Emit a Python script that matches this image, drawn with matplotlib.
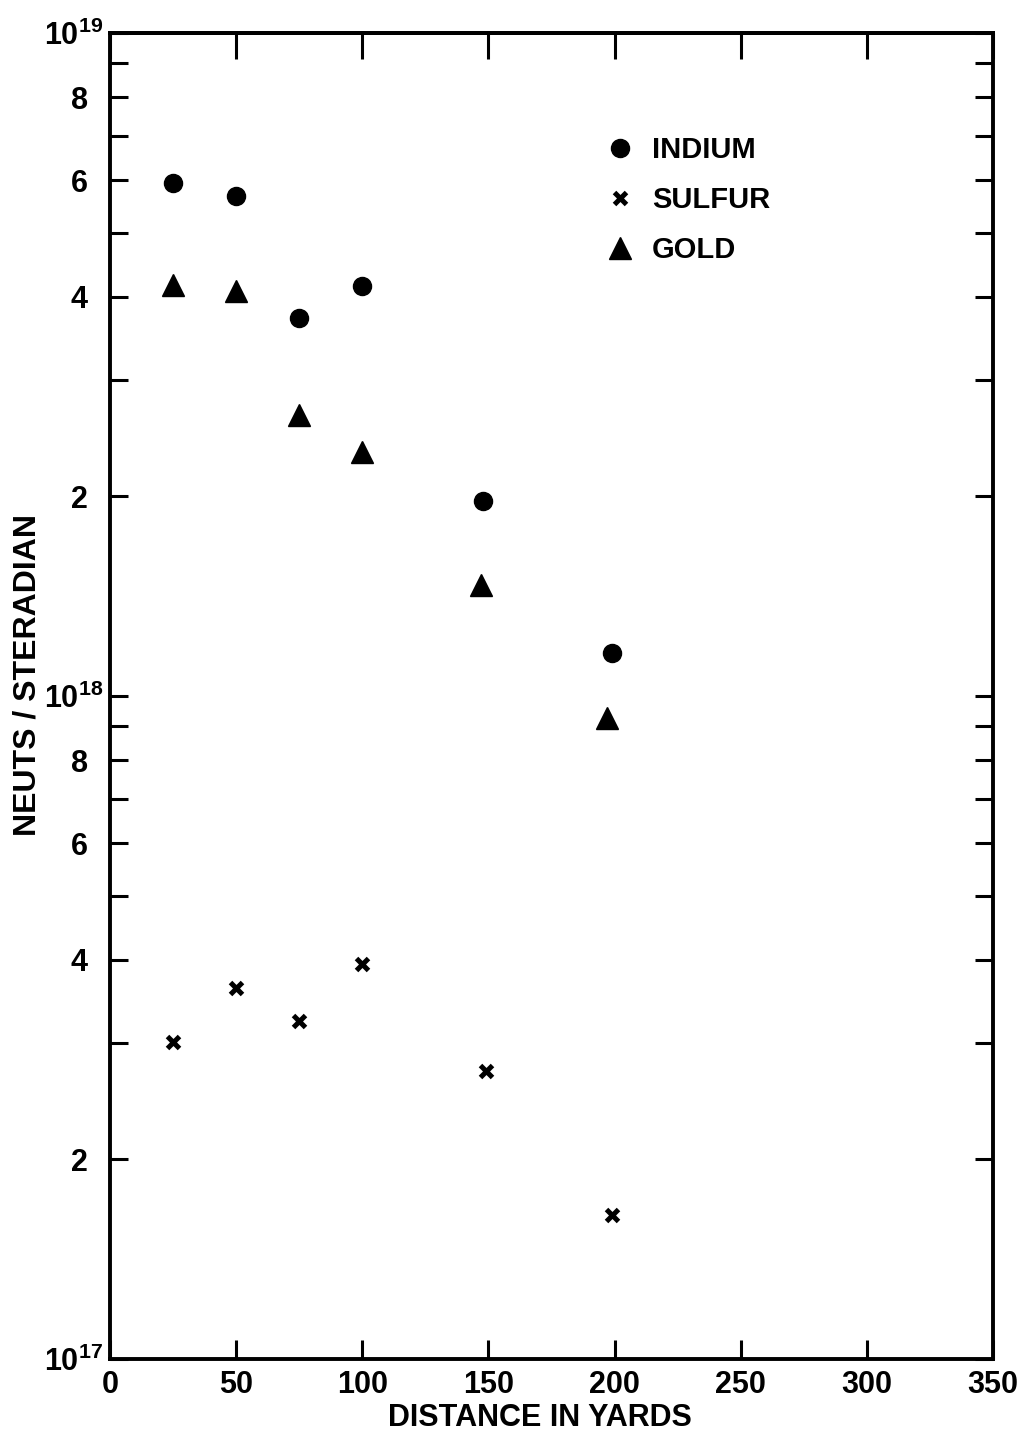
import matplotlib
matplotlib.use('Agg')
import matplotlib.pyplot as plt
from matplotlib.ticker import FixedLocator, FixedFormatter

plt.rcParams['font.family'] = ['Liberation Sans', 'DejaVu Sans']
plt.rcParams['font.weight'] = 'bold'
plt.rcParams['mathtext.fontset'] = 'custom'
plt.rcParams['mathtext.rm'] = 'Liberation Sans:bold'
plt.rcParams['mathtext.bf'] = 'Liberation Sans:bold'
plt.rcParams['mathtext.it'] = 'Liberation Sans:bold'

# ---- data ----
indium_x = [25, 50, 75, 100, 148, 199]
indium_y = [5.94e18, 5.68e18, 3.72e18, 4.15e18, 1.97e18, 1.16e18]
sulfur_x = [25, 50, 75, 100, 149, 199]
sulfur_y = [3.01e17, 3.63e17, 3.23e17, 3.94e17, 2.72e17, 1.65e17]
gold_x = [25, 50, 75, 100, 147, 197]
gold_y = [4.17e18, 4.08e18, 2.65e18, 2.33e18, 1.47e18, 9.26e17]

series_labels = ['INDIUM', 'SULFUR', 'GOLD']
x_ticks = [0, 50, 100, 150, 200, 250, 300, 350]
x_tick_labels = ['0', '50', '100', '150', '200', '250', '300', '350']
decade_ticks = [1e17, 1e18, 1e19]
decade_labels = [r'$\mathbf{10^{17}}$', r'$\mathbf{10^{18}}$', r'$\mathbf{10^{19}}$']
minor_mult = [2, 3, 4, 5, 6, 7, 8, 9]
minor_shown = {2: '2', 4: '4', 6: '6', 8: '8'}
xlabel = 'DISTANCE IN YARDS'
ylabel = 'NEUTS / STERADIAN'

# ---- figure ----
fig = plt.figure(figsize=(10.29, 14.32), dpi=100)
ax = fig.add_axes([0.1069, 0.051, 0.8581, 0.926])

ax.plot(indium_x, indium_y, linestyle='none', marker='o', ms=13, color='black',
        label=series_labels[0])
ax.plot(sulfur_x, sulfur_y, linestyle='none', marker='x', ms=8, mew=3.6,
        color='black', label=series_labels[1])
ax.plot(gold_x, gold_y, linestyle='none', marker='^', ms=16, color='black',
        label=series_labels[2])

ax.set_yscale('log')
ax.set_xlim(0, 350)
ax.set_ylim(1e17, 1e19)

ax.xaxis.set_major_locator(FixedLocator(x_ticks))
ax.xaxis.set_major_formatter(FixedFormatter(x_tick_labels))
ax.xaxis.set_minor_locator(FixedLocator([]))

minor_vals = [m * d for d in decade_ticks[:-1] for m in minor_mult]
minor_labs = [minor_shown.get(m, '') for d in decade_ticks[:-1] for m in minor_mult]
ax.yaxis.set_major_locator(FixedLocator(decade_ticks))
ax.yaxis.set_major_formatter(FixedFormatter(decade_labels))
ax.yaxis.set_minor_locator(FixedLocator(minor_vals))
ax.yaxis.set_minor_formatter(FixedFormatter(minor_labs))

for s in ax.spines.values():
    s.set_linewidth(2.8)

ax.tick_params(axis='both', which='both', direction='in', width=2.2,
               labelsize=22, colors='black')
ax.tick_params(axis='x', which='major', length=14, pad=8, bottom=True, top=False)
ax.tick_params(axis='y', which='both', length=13, left=True, right=True)
ax.tick_params(axis='y', which='major', pad=5)
ax.tick_params(axis='y', which='minor', pad=16)

sec = ax.secondary_xaxis('top')
sec.set_xticks(x_ticks)
sec.tick_params(direction='in', length=19, width=2.2, labeltop=False)
sec.spines['top'].set_linewidth(2.8)

ax.set_xlabel(xlabel, fontsize=22, fontweight='bold')
ax.xaxis.set_label_coords(0.487, -0.033)
ax.set_ylabel(ylabel, fontsize=23, fontweight='bold')
ax.yaxis.set_label_coords(-0.076, 0.516)

leg = ax.legend(loc='upper left', bbox_to_anchor=(0.561, 0.922), frameon=False,
                fontsize=21, handlelength=1.0, handletextpad=0.6,
                labelspacing=0.75, borderpad=0, borderaxespad=0, numpoints=1)

fig.savefig('out.png', dpi=100)
